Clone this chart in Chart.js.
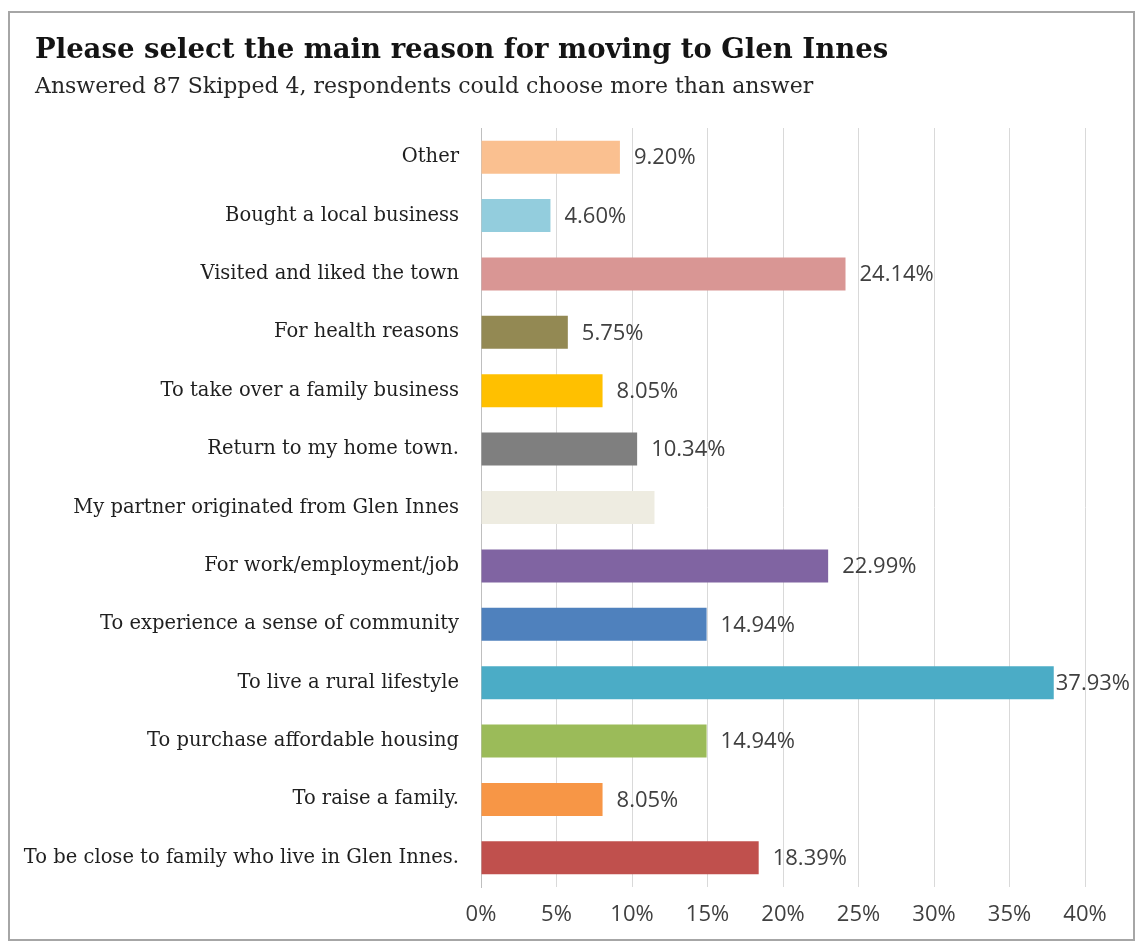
<!DOCTYPE html>
<html lang="en">
<head>
  <meta charset="UTF-8">
  <title>Main reason for moving to Glen Innes</title>
  <script src="https://cdn.jsdelivr.net/npm/chart.js"></script>
  <style>
    body { margin: 0; background: #fff; }
    #frame {
      position: absolute; left: 8px; top: 11px;
      width: 1123px; height: 926px;
      border: 2px solid #a6a6a6;
    }
    #frame canvas { position: absolute; left: 0; top: 0; }
    .head {
      position: absolute; left: 25px; margin: 0;
      font-family: "DejaVu Serif", serif; white-space: nowrap;
    }
    #title { top: 19px; font-size: 27.5px; line-height: 32px; font-weight: bold; color: #141414; }
    #subtitle { top: 60px; font-size: 22px; line-height: 26px; font-weight: normal; color: #262626; }
  </style>
</head>
<body>

<div id="frame">
  <canvas id="barChart" width="1123" height="926"></canvas>
  <h1 class="head" id="title">Please select the main reason for moving to Glen Innes</h1>
  <h2 class="head" id="subtitle">Answered 87 Skipped 4, respondents could choose more than answer</h2>
</div>

<script>
  const categories = [
    "Other",
    "Bought a local business",
    "Visited and liked the town",
    "For health reasons",
    "To take over a family business",
    "Return to my home town.",
    "My partner originated from Glen Innes",
    "For work/employment/job",
    "To experience a sense of community",
    "To live a rural lifestyle",
    "To purchase affordable housing",
    "To raise a family.",
    "To be close to family who live in Glen Innes."
  ];
  const percentages = [9.20, 4.60, 24.14, 5.75, 8.05, 10.34, 11.49, 22.99, 14.94, 37.93, 14.94, 8.05, 18.39];
  const showLabel = [true, true, true, true, true, true, false, true, true, true, true, true, true];
  const barColors = [
    '#fac090', '#93cddd', '#d99694', '#938953', '#ffc000', '#7f7f7f', '#eeece1',
    '#8064a2', '#4f81bd', '#4bacc6', '#9bbb59', '#f79646', '#c0504d'
  ];
  const xTicks = [0, 5, 10, 15, 20, 25, 30, 35, 40];

  // value labels at the end of each bar
  const barValueLabels = {
    id: 'barValueLabels',
    afterDatasetsDraw(chart) {
      const ctx = chart.ctx;
      const meta = chart.getDatasetMeta(0);
      ctx.save();
      ctx.font = '22px "Open Sans"';
      ctx.fillStyle = '#404040';
      ctx.textBaseline = 'middle';
      ctx.textAlign = 'left';
      meta.data.forEach((bar, i) => {
        if (!showLabel[i]) return;
        const txt = percentages[i].toFixed(2) + '%';
        let x = bar.x + 14;
        // squeeze against the bar when it would run off the frame
        if (x + ctx.measureText(txt).width > chart.width - 2) x = bar.x + 2;
        ctx.fillText(txt, x, bar.y + 1);
      });
      ctx.restore();
    }
  };

  const ctx = document.getElementById('barChart').getContext('2d');
  const barChart = new Chart(ctx, {
    type: 'bar',
    data: {
      labels: categories,
      datasets: [{
        data: percentages,
        backgroundColor: barColors,
        categoryPercentage: 1,
        barPercentage: 0.565
      }]
    },
    options: {
      indexAxis: 'y',
      responsive: false,
      animation: false,
      layout: { padding: { left: 5, right: 48, top: 115, bottom: 0 } },
      plugins: {
        legend: { display: false },
        tooltip: { enabled: false }
      },
      scales: {
        x: {
          min: 0,
          max: 40,
          afterBuildTicks(scale) {
            scale.ticks = xTicks.map(v => ({ value: v }));
          },
          afterFit(scale) { scale.height = 52; },
          grid: { color: '#d9d9d9', drawTicks: false },
          border: { display: false },
          ticks: {
            padding: 15,
            color: '#404040',
            font: { family: '"Open Sans"', size: 22 },
            callback: v => v + '%'
          }
        },
        y: {
          afterFit(scale) { scale.width = 466; },
          grid: { display: false, drawTicks: false },
          border: { display: true, color: '#bfbfbf', width: 1 },
          ticks: {
            padding: 22,
            color: '#1f1f1f',
            font: { family: '"DejaVu Serif"', size: 19.5 }
          }
        }
      }
    },
    plugins: [barValueLabels]
  });
</script>

</body>
</html>
